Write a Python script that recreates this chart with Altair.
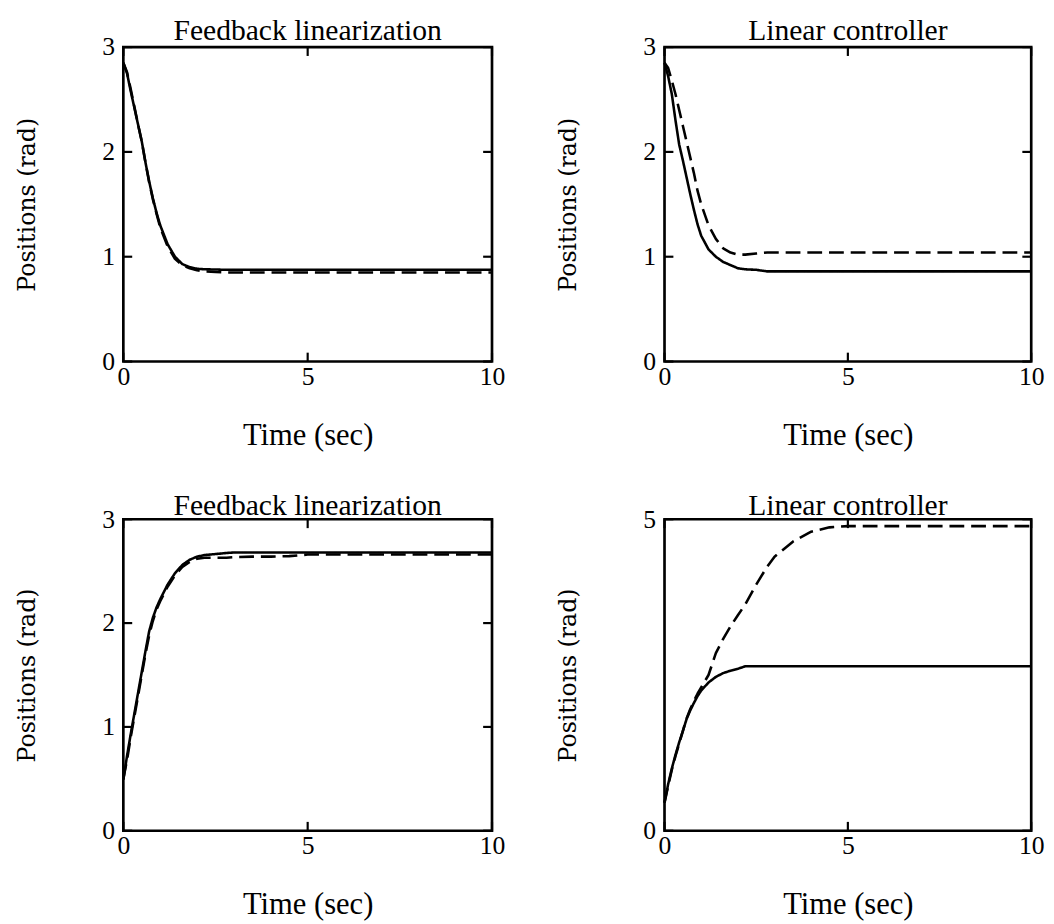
import altair as alt
import pandas as pd

# ---------------- data ----------------
T = [0, 0.1, 0.2, 0.3, 0.4, 0.5, 0.6, 0.7, 0.8, 0.9, 1.0, 1.2, 1.4, 1.6, 1.8,
     2.0, 2.2, 2.5, 2.8, 3.0, 3.5, 4.0, 4.5, 5.0, 6.0, 7.0, 8.0, 9.0, 10.0]

# Top-left: Feedback linearization
TL_SOLID = [2.85, 2.75, 2.58, 2.42, 2.26, 2.10, 1.90, 1.72, 1.56, 1.42, 1.30, 1.12, 1.00, 0.93, 0.90,
            0.885, 0.88, 0.878, 0.875, 0.875, 0.875, 0.875, 0.875, 0.875, 0.875, 0.875, 0.875, 0.875, 0.875]
TL_DASHED = [2.85, 2.76, 2.60, 2.43, 2.26, 2.10, 1.90, 1.71, 1.55, 1.41, 1.28, 1.10, 0.98, 0.92, 0.89,
             0.87, 0.86, 0.855, 0.85, 0.85, 0.85, 0.85, 0.85, 0.85, 0.85, 0.85, 0.85, 0.85, 0.85]

# Top-right: Linear controller
TR_SOLID = [2.85, 2.72, 2.55, 2.30, 2.07, 1.92, 1.76, 1.60, 1.45, 1.31, 1.20, 1.07, 1.00, 0.95, 0.92,
            0.89, 0.88, 0.875, 0.86, 0.86, 0.86, 0.86, 0.86, 0.86, 0.86, 0.86, 0.86, 0.86, 0.86]
TR_DASHED = [2.85, 2.80, 2.68, 2.55, 2.40, 2.25, 2.10, 1.95, 1.80, 1.63, 1.50, 1.30, 1.17, 1.08, 1.04,
             1.02, 1.02, 1.03, 1.04, 1.04, 1.04, 1.04, 1.04, 1.04, 1.04, 1.04, 1.04, 1.04, 1.04]

# Bottom-left: Feedback linearization
BL_SOLID = [0.49, 0.72, 0.93, 1.13, 1.33, 1.53, 1.73, 1.92, 2.05, 2.15, 2.23, 2.37, 2.48, 2.56, 2.61,
            2.64, 2.655, 2.665, 2.675, 2.68, 2.68, 2.68, 2.68, 2.68, 2.68, 2.68, 2.68, 2.68, 2.68]
BL_DASHED = [0.50, 0.68, 0.90, 1.10, 1.30, 1.50, 1.70, 1.88, 2.02, 2.13, 2.21, 2.35, 2.46, 2.54, 2.59,
             2.62, 2.63, 2.63, 2.63, 2.635, 2.64, 2.64, 2.645, 2.66, 2.66, 2.66, 2.66, 2.66, 2.66]

# Bottom-right: Linear controller
BR_SOLID = [0.45, 0.75, 1.00, 1.22, 1.42, 1.60, 1.79, 1.93, 2.05, 2.16, 2.25, 2.38, 2.47, 2.53, 2.57,
            2.60, 2.64, 2.64, 2.64, 2.64, 2.64, 2.64, 2.64, 2.64, 2.64, 2.64, 2.64, 2.64, 2.64]
BR_DASHED = [0.45, 0.72, 0.98, 1.20, 1.40, 1.60, 1.80, 1.95, 2.08, 2.20, 2.30, 2.50, 2.85, 3.08, 3.28,
             3.46, 3.63, 3.95, 4.24, 4.40, 4.64, 4.80, 4.87, 4.89, 4.89, 4.89, 4.89, 4.89, 4.89]

X_TICKS = [0, 5, 10]
Y_TICKS_3 = [0, 1, 2, 3]
Y_TICKS_5 = [0, 5]

TITLES = ["Feedback linearization", "Linear controller"]
X_TITLE = "Time (sec)"
Y_TITLE = "Positions (rad)"

SERIF = "Liberation Serif"
TICK_LEN = 9


def panel(title, solid, dashed, ymax, yticks, w, h, title_offset):
    df = pd.DataFrame({
        "t": T + T,
        "v": solid + dashed,
        "s": ["solid"] * len(T) + ["dashed"] * len(T),
    })
    xs = alt.Scale(domain=[0, 10], nice=False, zero=False)
    ys = alt.Scale(domain=[0, ymax], nice=False, zero=False)
    xa = alt.Axis(
        values=X_TICKS, ticks=False, domain=False, grid=False, labelPadding=2,
        labelFont=SERIF, labelFontSize=26, labelColor="black", labelFlush=False,
        title=X_TITLE, titleFont=SERIF, titleFontSize=31, titleFontWeight="normal",
        titleColor="black", titlePadding=32)
    ya = alt.Axis(
        values=yticks, ticks=False, domain=False, grid=False, labelPadding=9,
        labelFont=SERIF, labelFontSize=26, labelColor="black", labelFlush=False,
        title=Y_TITLE, titleFont="DejaVu Serif", titleFontSize=24, titleFontWeight="normal",
        titleColor="black", titlePadding=63)

    lines = alt.Chart(df).mark_line(color="black", strokeWidth=2.6, strokeJoin="round").encode(
        x=alt.X("t:Q", scale=xs, axis=xa),
        y=alt.Y("v:Q", scale=ys, axis=ya),
        strokeDash=alt.StrokeDash("s:N", scale=alt.Scale(domain=["solid", "dashed"],
                                                         range=[[1, 0], [15, 7]]), legend=None),
        detail="s:N",
    )

    xt = pd.DataFrame({"t": X_TICKS})
    yt = pd.DataFrame({"v": yticks})
    bottom_ticks = alt.Chart(xt).mark_rule(color="black", strokeWidth=2.2).encode(
        x=alt.X("t:Q", scale=xs, axis=xa), y=alt.value(h), y2=alt.value(h - TICK_LEN))
    top_ticks = alt.Chart(xt).mark_rule(color="black", strokeWidth=2.2).encode(
        x=alt.X("t:Q", scale=xs, axis=xa), y=alt.value(0), y2=alt.value(TICK_LEN))
    left_ticks = alt.Chart(yt).mark_rule(color="black", strokeWidth=2.2).encode(
        y=alt.Y("v:Q", scale=ys, axis=ya), x=alt.value(0), x2=alt.value(TICK_LEN))
    right_ticks = alt.Chart(yt).mark_rule(color="black", strokeWidth=2.2).encode(
        y=alt.Y("v:Q", scale=ys, axis=ya), x=alt.value(w - TICK_LEN), x2=alt.value(w))

    return alt.layer(lines, bottom_ticks, top_ticks, left_ticks, right_ticks).properties(
        width=w, height=h,
        title=alt.TitleParams(text=title, font=SERIF, fontSize=30, fontWeight="normal",
                              color="black", anchor="middle", frame="group",
                              baseline="alphabetic", offset=title_offset),
    )


p1 = panel(TITLES[0], TL_SOLID, TL_DASHED, 3, Y_TICKS_3, 374, 319, -36)
p2 = panel(TITLES[1], TR_SOLID, TR_DASHED, 3, Y_TICKS_3, 372, 319, -36)
p3 = panel(TITLES[0], BL_SOLID, BL_DASHED, 3, Y_TICKS_3, 374, 316, -39)
p4 = panel(TITLES[1], BR_SOLID, BR_DASHED, 5, Y_TICKS_5, 372, 316, -39)

chart = alt.vconcat(
    alt.hconcat(p1, p2, spacing=49),
    alt.hconcat(p3, p4, spacing=49),
    spacing=38,
).properties(
    padding={"left": 6, "top": 0, "right": 0, "bottom": 0},
    background="white",
).configure_view(
    stroke="black", strokeWidth=2.7, fill="white"
)

chart.save("out.html", embed_options={"renderer": "svg", "actions": False})
